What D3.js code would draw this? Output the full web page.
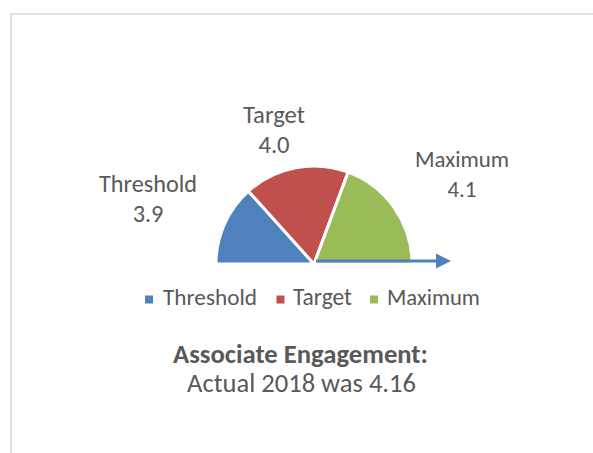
<!DOCTYPE html>
<html><head><meta charset="utf-8">
<script src="https://cdn.jsdelivr.net/npm/d3@7"></script>
<style>
body{margin:0;background:#fff;}
svg{display:block;}
text{font-family:Carlito, Lato, "Open Sans", sans-serif; fill:#595959;}
</style>
</head><body>
<svg id="c" width="593" height="453"></svg>
<script>
// ---- data ----
const categories = ["Threshold", "Target", "Maximum"];
const scoreLabels = ["3.9", "4.0", "4.1"];
const sliceValues = [0.40, 0.52, 0.58];
const colors = ["#4F81BD", "#C0504D", "#9BBB59"];
const titleLines = ["Associate Engagement:", "Actual 2018 was 4.16"];
const pointerAngleDeg = 90; // pointer direction (0 = up, 90 = right)

// ---- layout ----
const svg = d3.select("#c");
const W = 593, H = 453;
svg.append("rect").attr("x", 11).attr("y", 14).attr("width", W + 20).attr("height", H + 20)
  .attr("fill", "#fff").attr("stroke", "#d9d9d9").attr("stroke-width", 1.5);

const cx = 314, cy = 264, r = 98;
const g = svg.append("g").attr("transform", `translate(${cx},${cy})`);

const pie = d3.pie().sort(null).startAngle(-Math.PI / 2).endAngle(Math.PI / 2);
const arc = d3.arc().innerRadius(0).outerRadius(r);
const arcs = pie(sliceValues);
g.selectAll("path.slice").data(arcs).join("path").attr("class", "slice")
  .attr("d", arc).attr("fill", (d, i) => colors[i])
  .attr("stroke", "#fff").attr("stroke-width", 3).attr("stroke-linejoin", "round");

// pointer arrow
const angle = pointerAngleDeg * Math.PI / 180;
const len = 135;
const ux = Math.sin(angle), uy = -Math.cos(angle);
const sx = 2, sy = -3;
const tipX = sx + ux * len, tipY = sy + uy * len;
const headL = 15, headW = 15;
const bx = tipX - ux * headL, by = tipY - uy * headL;
g.append("line").attr("x1", sx).attr("y1", sy).attr("x2", bx + ux).attr("y2", by + uy)
  .attr("stroke", "#4F81BD").attr("stroke-width", 3.2);
g.append("path").attr("d", `M${tipX},${tipY} L${bx - uy * headW / 2},${by + ux * headW / 2} L${bx + uy * headW / 2},${by - ux * headW / 2} Z`)
  .attr("fill", "#4F81BD");

function fit(t, w, base) {
  t.attr("font-size", base);
  const L = t.node().getComputedTextLength();
  t.attr("font-size", base * w / L);
  return t;
}

// data labels
const labelPos = [[148, 192, 98], [274, 123, 62], [462, 167, 94]];
categories.forEach((c, i) => {
  const [x, y, w] = labelPos[i];
  const t = svg.append("text").attr("x", x).attr("y", y).attr("text-anchor", "middle").text(c);
  fit(t, w, 22);
  const fs = +t.attr("font-size");
  svg.append("text").attr("x", x).attr("y", y + 29.5).attr("text-anchor", "middle")
    .attr("font-size", fs).text(scoreLabels[i]);
});

// legend
const legendItems = [
  { sq: 145, tx: 163, w: 94 },
  { sq: 276.5, tx: 293, w: 59 },
  { sq: 370, tx: 387, w: 93 }
];
categories.forEach((c, i) => {
  const L = legendItems[i];
  svg.append("rect").attr("x", L.sq).attr("y", 295.5).attr("width", 8).attr("height", 8).attr("fill", colors[i]);
  const t = svg.append("text").attr("x", L.tx).attr("y", 305).text(c);
  fit(t, L.w, 22);
});

// title
const t1 = svg.append("text").attr("x", 300.5).attr("y", 363).attr("text-anchor", "middle")
  .attr("font-weight", "bold").text(titleLines[0]);
fit(t1, 255, 22);
const t2 = svg.append("text").attr("x", 301.5).attr("y", 392).attr("text-anchor", "middle")
  .text(titleLines[1]);
fit(t2, 229, 22);
</script>
</body></html>
